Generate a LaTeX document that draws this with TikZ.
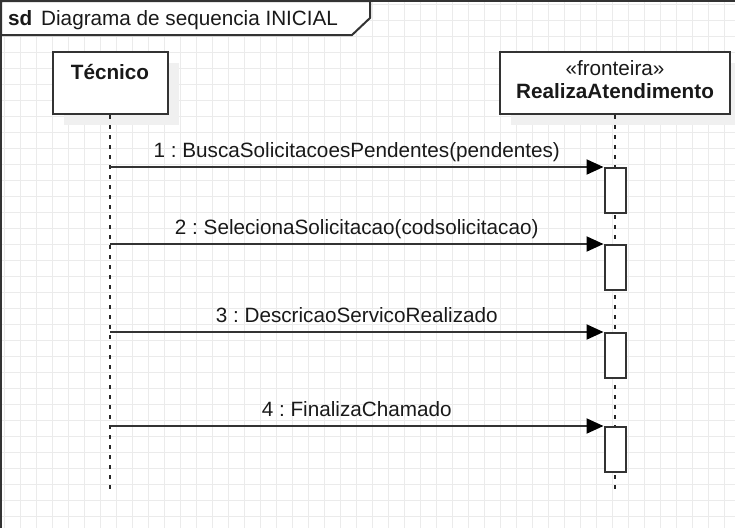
\documentclass[tikz,border=0pt]{standalone}
\usepackage{fontspec}
\setmainfont{Liberation Sans}
\frenchspacing
\usetikzlibrary{arrows.meta,shadows}
\definecolor{linegray}{HTML}{333333}
\definecolor{gridgray}{HTML}{EBEBEB}
\tikzstyle{gridline}=[draw=gridgray,line width=1pt]
\tikzstyle{lifebox}=[draw=linegray,line width=2pt,fill=white,minimum height=62.5pt,drop shadow={shadow xshift=11pt,shadow yshift=-11pt,fill=black!6,opacity=1}]
\tikzstyle{lifeline}=[draw=black!85,line width=2pt,dash pattern=on 4pt off 6pt]
\tikzstyle{activation}=[draw=linegray,line width=2pt,fill=white,minimum width=21pt,minimum height=45pt,inner sep=0pt,anchor=north]
\tikzstyle{msg}=[draw=linegray,line width=2pt,-{Triangle[length=17pt,width=15pt,color=black]}]
\tikzstyle{msglabel}=[anchor=base,yshift=10pt,inner sep=0pt]

\begin{document}
\begin{tikzpicture}[x=1pt,y=-1pt,font=\fontsize{20.7}{23}\selectfont,text=black!90]
\useasboundingbox (0,0) rectangle (735,528);
% grid
  \foreach \gx in {4.7,20.7,...,735}
    \draw[gridline] (\gx,0) -- (\gx,528);
  \foreach \gy in {4.7,20.7,...,528}
    \draw[gridline] (0,\gy) -- (735,\gy);
% frame
  \draw[linegray,line width=2pt] (1,528) -- (1,1) -- (735,1);
  \draw[linegray,line width=2pt,fill=white] (1,1) -- (370,1) -- (370,18) -- (352,35) -- (1,35) -- cycle;
  \node[anchor=base west,inner sep=0pt] (sd) at (8,25) {\bfseries sd};
  \node[anchor=base west,inner sep=0pt] (title) at (41,25) {Diagrama de sequencia INICIAL};
% participants
  \node[lifebox,minimum width=115pt] (tec) at (110,83) {};
  \node[anchor=base,inner sep=0pt] (tecname) at (110,79) {\bfseries Técnico};
  \node[lifebox,minimum width=230pt] (ra) at (615,83) {};
  \node[anchor=base,align=center,inner sep=0pt] (raname) at (615,98) {«fronteira»\\\bfseries RealizaAtendimento};
% lifelines
  \coordinate (tecend) at (110,492);
  \coordinate (raend) at (615,492);
  \draw[lifeline] (tec.south) -- (tecend);
  \draw[lifeline] (ra.south) -- (raend);
% activations
  \node[activation] (act1) at (615,167) {};
  \node[activation] (act2) at (615,244) {};
  \node[activation] (act3) at (615,332) {};
  \node[activation] (act4) at (615,426) {};
% messages
  \coordinate (s1) at (110,167);
  \coordinate (s2) at (110,244);
  \coordinate (s3) at (110,332);
  \coordinate (s4) at (110,426);
  \draw[msg] (s1) -- node[msglabel] {1 : BuscaSolicitacoesPendentes(pendentes)} (act1.north west);
  \draw[msg] (s2) -- node[msglabel] {2 : SelecionaSolicitacao(codsolicitacao)} (act2.north west);
  \draw[msg] (s3) -- node[msglabel] {3 : DescricaoServicoRealizado} (act3.north west);
  \draw[msg] (s4) -- node[msglabel] {4 : FinalizaChamado} (act4.north west);
\end{tikzpicture}
\end{document}
